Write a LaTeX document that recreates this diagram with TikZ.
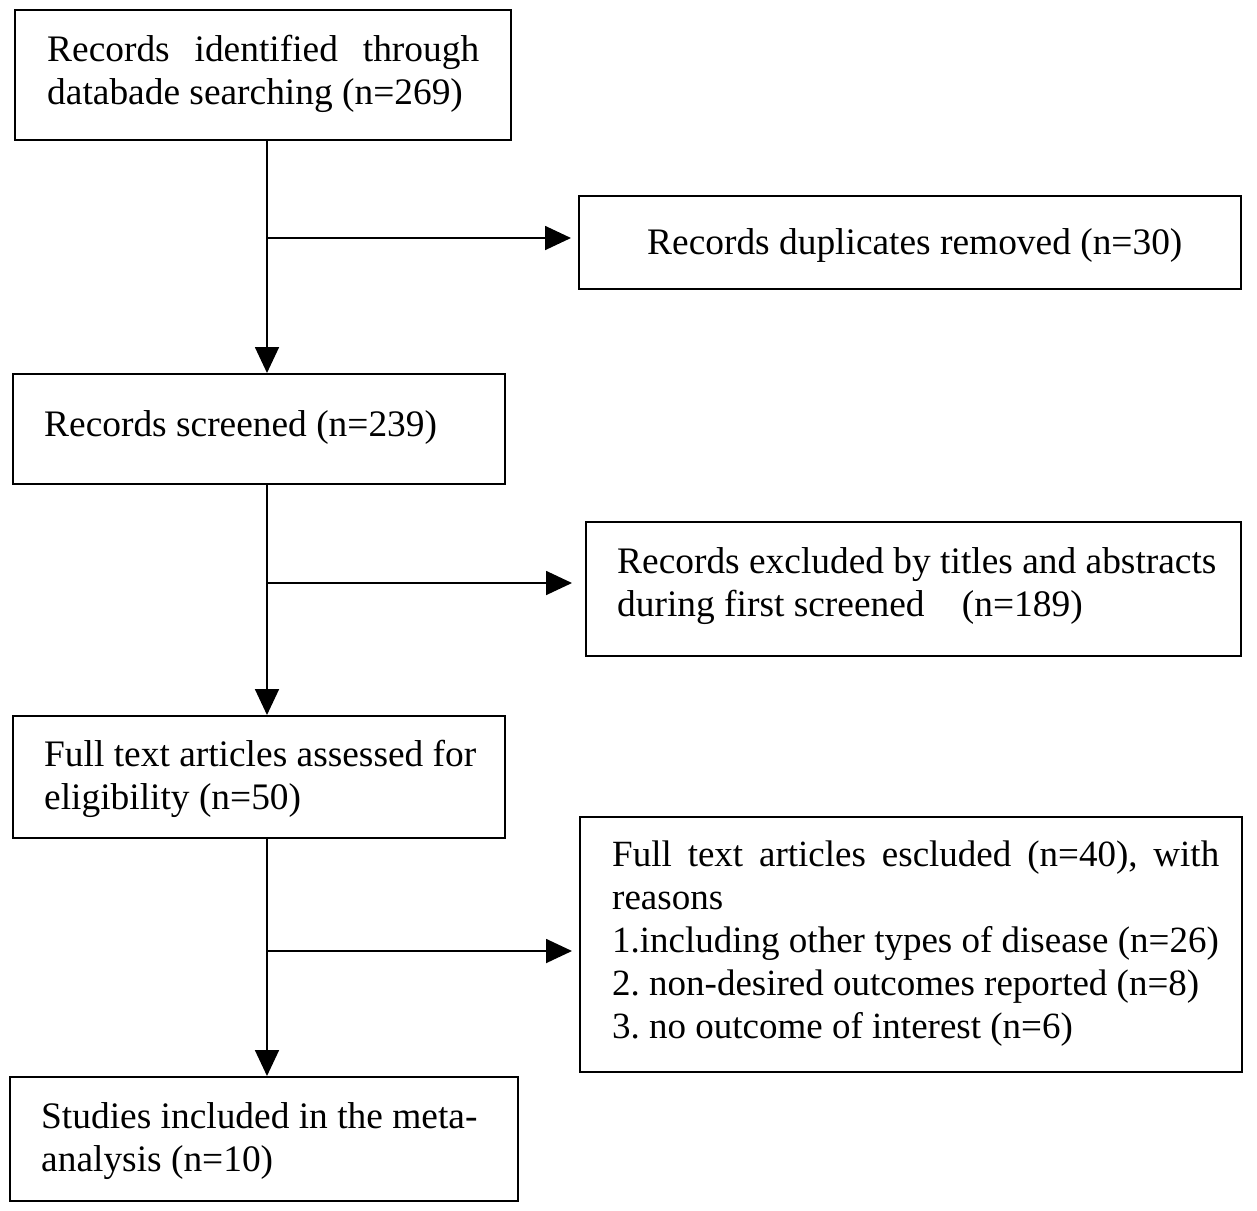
\documentclass[tikz,border=0pt]{standalone}
\usepackage{fontspec}
\setmainfont{Liberation Serif}
\usetikzlibrary{arrows.meta}
\setlength{\parindent}{0pt}
\frenchspacing
\hyphenpenalty=10000\relax
\exhyphenpenalty=10000\relax
\pretolerance=-1\relax
\tolerance=10000\relax
\begin{document}
\begin{tikzpicture}[x=1pt,y=-1pt,
  box/.style={draw, line width=1.8pt, inner sep=0pt, anchor=north west},
  txt/.style={inner sep=0pt, anchor=west, align=left,
    font=\fontsize{37.4}{43}\selectfont},
  smalltxt/.style={txt, font=\fontsize{37}{43}\selectfont},
  arr/.style={line width=1.8pt, -{Triangle[width=24pt,length=26pt]}}]
\useasboundingbox (0,0) rectangle (1257,1210);
% boxes
\node[box, minimum width=496pt, minimum height=130pt] (b1) at (14,9) {};
\node[box, minimum width=662pt, minimum height=93pt] (b2) at (578,195) {};
\node[box, minimum width=492pt, minimum height=110pt] (b3) at (12,373) {};
\node[box, minimum width=655pt, minimum height=134pt] (b4) at (585,521) {};
\node[box, minimum width=492pt, minimum height=122pt] (b5) at (12,715) {};
\node[box, minimum width=662pt, minimum height=255pt] (b6) at (579,816) {};
\node[box, minimum width=508pt, minimum height=124pt] (b7) at (9,1076) {};
% texts
\node[txt, text width=432pt, align=justify] (t1) at (47,74) {Records identified through databade searching (n=269)};
\node[txt] (t2) at (647,246) {Records duplicates removed (n=30)};
\node[txt] (t3) at (44,427) {Records screened (n=239)};
\node[txt] (t4) at (617,586) {Records excluded by titles and abstracts\\during first screened\hspace{28pt} (n=189)};
\node[txt] (t5) at (44,779) {Full text articles assessed for\\eligibility (n=50)};
\node[smalltxt, text width=607pt, align=justify] (t6) at (612,944) {Full text articles escluded (n=40), with reasons\par 1.including other types of disease (n=26)\par 2. non-desired outcomes reported (n=8)\par 3. no outcome of interest (n=6)};
\node[txt] (t7) at (41,1141) {Studies included in the meta-\\analysis (n=10)};
% junctions
\coordinate (j1) at (267,238);
\coordinate (j2) at (267,583);
\coordinate (j3) at (267,951);
% connectors
\draw[arr] (b1.south -| j1) -- (b3.north -| j1);
\draw[arr] (b3.south -| j2) -- (b5.north -| j2);
\draw[arr] (b5.south -| j3) -- (b7.north -| j3);
\draw[arr, shorten >=7pt] (j1) -- (j1 -| b2.west);
\draw[arr, shorten >=13pt] (j2) -- (j2 -| b4.west);
\draw[arr, shorten >=7pt] (j3) -- (j3 -| b6.west);
\end{tikzpicture}
\end{document}
